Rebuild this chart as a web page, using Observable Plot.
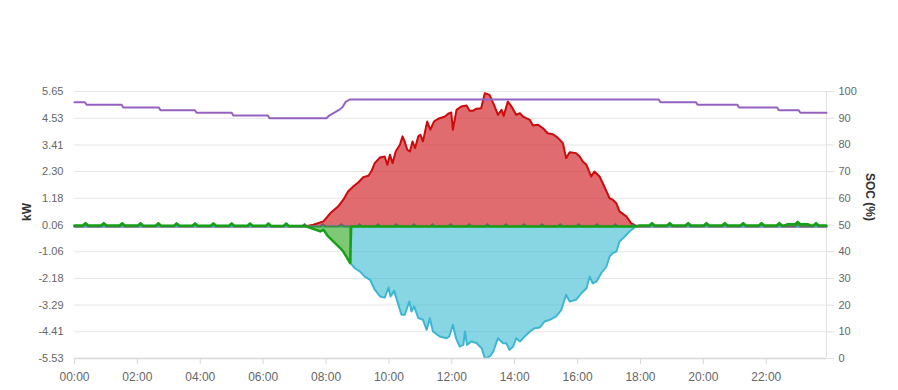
<!DOCTYPE html>
<html><head><meta charset="utf-8">
<script src="https://cdn.jsdelivr.net/npm/d3@7"></script>
<script src="https://cdn.jsdelivr.net/npm/@observablehq/plot@0.6"></script>
<style>body{margin:0;background:#fff;}</style>
</head><body><div id="chart"></div>
<script>
// ---------- data ----------
const xTickLabels = ["00:00","02:00","04:00","06:00","08:00","10:00","12:00","14:00","16:00","18:00","20:00","22:00"];
const xStart = "00:00";
const xEnd = "23:55";
const kwTicks = [5.65, 4.53, 3.41, 2.30, 1.18, 0.06, -1.06, -2.18, -3.29, -4.41, -5.53];
const socTicks = [100, 90, 80, 70, 60, 50, 40, 30, 20, 10, 0];

// PV / charge (positive, red)
const solar = [["00:00",0],["07:20",0],["07:36",0.07],["07:55",0.21],["08:08",0.55],["08:23",0.83],["08:33",1.12],["08:42",1.46],["08:52",1.67],["09:02",1.85],["09:11",2.06],["09:21",2.12],["09:27",2.33],["09:33",2.65],["09:43",2.89],["09:52",2.93],["09:57",2.58],["10:02",3.00],["10:07",2.65],["10:13",3.14],["10:21",3.42],["10:26",3.77],["10:30",3.56],["10:35",3.21],["10:40",3.14],["10:45",3.56],["10:50",3.28],["10:56",3.77],["11:00",3.84],["11:05",3.56],["11:13",4.39],["11:19",4.05],["11:26",4.39],["11:34",4.51],["11:37",4.53],["11:47",4.60],["11:53",4.72],["11:59",4.77],["12:02",4.05],["12:09",4.88],["12:18",5.02],["12:28",5.06],["12:34",4.84],["12:40",4.84],["12:47",4.93],["12:56",4.95],["13:03",5.58],["13:12",5.51],["13:22",5.02],["13:28",4.67],["13:35",4.88],["13:39",4.63],["13:47",5.23],["13:54",5.02],["14:03",4.67],["14:10",4.74],["14:16",4.60],["14:29",4.46],["14:35",4.23],["14:44",4.26],["14:54",4.11],["15:03",3.90],["15:13",3.86],["15:22",3.72],["15:32",3.49],["15:38",2.86],["15:45",3.11],["15:57",3.07],["16:04",2.93],["16:10",2.72],["16:17",2.58],["16:26",2.09],["16:32",2.30],["16:42",2.09],["16:51",1.67],["17:01",1.18],["17:07",1.12],["17:14",0.97],["17:20",0.63],["17:33",0.42],["17:42",0.14],["17:49",0.04],["17:58",0],["23:55",0]];

// battery / discharge (negative, blue)
const battery = [["00:00",0],["08:46",0],["08:47",-1.55],["08:55",-1.75],["09:05",-1.89],["09:14",-2.10],["09:24",-2.24],["09:33",-2.65],["09:43",-2.93],["09:52",-2.98],["09:59",-2.56],["10:03",-2.93],["10:10",-2.70],["10:18",-3.28],["10:24",-3.70],["10:30",-3.70],["10:39",-3.14],["10:43",-3.56],["10:48",-3.35],["10:56",-3.84],["11:05",-3.91],["11:12",-4.33],["11:18",-3.84],["11:24",-4.40],["11:37",-4.61],["11:50",-4.68],["11:55",-4.61],["12:02",-4.12],["12:08",-4.68],["12:15",-5.03],["12:22",-4.96],["12:25",-4.40],["12:29",-4.96],["12:37",-4.82],["12:47",-4.88],["12:57",-5.10],["13:03",-5.52],["13:12",-5.45],["13:19",-5.24],["13:28",-4.68],["13:38",-4.89],["13:44",-4.89],["13:50",-5.17],["13:57",-5.03],["14:03",-4.68],["14:10",-4.82],["14:19",-4.61],["14:29",-4.40],["14:38",-4.26],["14:48",-4.23],["14:57",-3.98],["15:07",-3.91],["15:19",-3.77],["15:29",-3.49],["15:38",-2.86],["15:45",-3.14],["15:57",-3.07],["16:07",-2.80],["16:17",-2.59],["16:23",-2.10],["16:29",-2.38],["16:36",-2.31],["16:45",-1.96],["16:55",-1.68],["17:01",-1.26],["17:07",-1.12],["17:14",-1.05],["17:20",-0.63],["17:30",-0.42],["17:39",-0.21],["17:51",0],["23:55",0]];

// grid (green)
const grid = [["00:00",0.04],["07:20",0.02],["07:49",-0.21],["07:55",-0.14],["08:04",-0.42],["08:27",-0.91],["08:33",-1.05],["08:46",-1.54],["08:48",0],["17:51",0],["17:58",0.04],["22:35",0.04],["22:40",0.09],["23:20",0.09],["23:25",0.04],["23:55",0.04]];
const gridBumpWindow = ["07:15","18:00"]; // grid shows the load spikes outside this window

// periodic load spikes (gray)
const loadBumpTimes = ["00:21","00:56","01:31","02:06","02:40","03:15","03:50","04:25","05:00","05:35","06:10","06:44","07:19","07:54","08:29","09:04","09:39","10:14","10:48","11:23","11:58","12:33","13:08","13:43","14:18","14:52","15:27","16:02","16:37","17:12","17:47","18:22","18:56","19:31","20:06","20:41","21:16","21:51","22:25","23:00","23:35"];
const loadBase = 0;
const bumpHeight = 0.1;

// state of charge (%)
const soc = [["00:00",96],["00:20",96],["00:23",95],["01:30",95],["01:33",94],["02:41",94],["02:44",93],["03:50",93],["03:53",92],["05:00",92],["05:03",91],["06:09",91],["06:12",90],["08:01",90],["08:06",91],["08:15",92],["08:24",93],["08:31",94],["08:37",96],["08:45",97],["18:35",97],["18:38",96],["19:46",96],["19:49",95],["21:05",95],["21:08",94],["22:21",94],["22:24",93],["23:02",93],["23:05",92],["23:55",92]];

// ---------- helpers ----------
const toH = s => { const [h, m] = s.split(":").map(Number); return h + m / 60; };
const kwMin = kwTicks[kwTicks.length - 1], kwMax = kwTicks[0];
const socToKw = v => kwMin + (kwMax - kwMin) * v / 100;
const kwToSoc = v => (v - kwMin) / (kwMax - kwMin) * 100;
const rows = arr => arr.map(([t, v]) => ({t: toH(t), v}));
function interp(pts, t) {
  for (let i = 1; i < pts.length; i++) {
    if (t <= pts[i].t) {
      const a = pts[i-1], b = pts[i];
      return b.t === a.t ? b.v : a.v + (b.v - a.v) * (t - a.t) / (b.t - a.t);
    }
  }
  return pts[pts.length - 1].v;
}
const half = 5 / 60;
function withBumps(base, times) {
  const out = base.slice();
  for (const t of times) {
    const b0 = interp(base, t - half), b1 = interp(base, t), b2 = interp(base, t + half);
    out.push({t: t - half, v: b0}, {t, v: b1 + bumpHeight}, {t: t + half, v: b2});
  }
  return out.sort((a, b) => a.t - b.t);
}
const bumpH = loadBumpTimes.map(toH);
const loadRows = withBumps([{t: toH(xStart), v: loadBase}, {t: toH(xEnd), v: loadBase}], bumpH);
const [w0, w1] = gridBumpWindow.map(toH);
const gridRows = withBumps(rows(grid), bumpH.filter(t => t < w0 || t > w1));
const solarRows = rows(solar);
const batteryRows = rows(battery);
const socRows = rows(soc).map(d => ({t: d.t, v: socToKw(d.v)}));

const xTicks = xTickLabels.map(toH);
const xDomain = [toH(xStart), toH(xEnd)];

const font = "'Liberation Sans', Arial, sans-serif";

const chart = Plot.plot({
  width: 898, height: 390,
  marginLeft: 74, marginRight: 72, marginTop: 91, marginBottom: 32,
  style: {fontFamily: font, fontSize: "11px", color: "#666", background: "#fff"},
  x: {domain: xDomain},
  y: {domain: [kwMin, kwMax]},
  marks: [
    Plot.gridY(kwTicks, {stroke: "#e6e6e6", strokeOpacity: 1, strokeWidth: 1}),
    Plot.ruleX([xDomain[1]], {stroke: "#e0e0e0", strokeWidth: 1}),
    Plot.areaY(solarRows, {x: "t", y1: 0, y2: "v", fill: "#d32d33", fillOpacity: 0.7}),
    Plot.areaY(batteryRows, {x: "t", y1: 0, y2: "v", fill: "#39bbd2", fillOpacity: 0.6}),
    Plot.lineY(solarRows, {x: "t", y: "v", stroke: "#cc0c0c", strokeWidth: 2}),
    Plot.lineY(batteryRows, {x: "t", y: "v", stroke: "#3cb6d2", strokeWidth: 2}),
    Plot.lineY(loadRows, {x: "t", y: "v", stroke: "#666", strokeWidth: 1.8}),
    Plot.areaY(gridRows, {x: "t", y1: 0, y2: "v", fill: "#2aa51a", fillOpacity: 0.6}),
    Plot.lineY(gridRows, {x: "t", y: "v", stroke: "#17a017", strokeWidth: 2.5}),
    Plot.lineY(socRows, {x: "t", y: "v", stroke: "#9462c0", strokeWidth: 2}),
    Plot.ruleY([kwMin], {stroke: "#d8d8d8", strokeWidth: 1.5}),
    Plot.axisX(xTicks, {anchor: "bottom", tickSize: 6, tickPadding: 8, stroke: "#d8d8d8", fill: "#666", fontSize: 12,
      tickFormat: d => xTickLabels[xTicks.indexOf(d)], label: null}),
    Plot.axisY(kwTicks, {anchor: "left", tickSize: 0, tickPadding: 11, fill: "#666",
      tickFormat: d => d.toFixed(2), label: null}),
    Plot.axisY(socTicks.map(socToKw), {anchor: "right", tickSize: 7, tickPadding: 5, stroke: "#e0e0e0", fill: "#666",
      tickFormat: d => String(Math.round(kwToSoc(d))), label: null}),
    Plot.text(["kW"], {frameAnchor: "left", dx: -47, dy: -4, rotate: -90, text: d => d, fontWeight: "bold", fontSize: 12, fill: "#333"}),
    Plot.text(["SOC (%)"], {frameAnchor: "right", dx: 43, dy: -4, rotate: 90, text: d => d, fontWeight: "bold", fontSize: 12, fill: "#333"})
  ]
});
document.getElementById("chart").appendChild(chart);
</script>
</body></html>
